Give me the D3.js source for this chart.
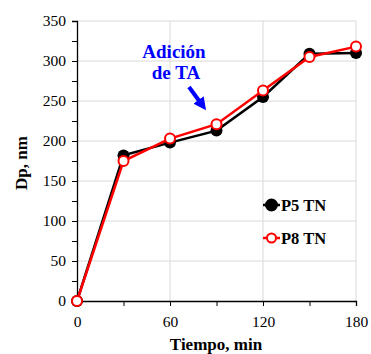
<!DOCTYPE html>
<html>
<head>
<meta charset="utf-8">
<script src="https://cdn.jsdelivr.net/npm/d3@7"></script>
<style>
  body { margin: 0; background: #fff; }
  svg text { font-family: "Liberation Serif", "Times New Roman", serif !important; }
</style>
</head>
<body>
<div id="chart"></div>
<script>
// data
var times = [0, 30, 60, 90, 120, 150, 180];
var p5 = [0, 182, 198, 213, 255, 309, 310];
var p8 = [0, 175, 203, 221, 263, 305, 318];
var xTicks = [0, 60, 120, 180];
var yTicks = [0, 50, 100, 150, 200, 250, 300, 350];

var svgWidth = 371;
var svgHeight = 354;
var margin = { top: 21, right: 15, bottom: 53, left: 77 };
var width = 356 - margin.left;
var height = 301 - margin.top;

var svg = d3.select("#chart").append("svg")
  .attr("width", svgWidth)
  .attr("height", svgHeight);

var g = svg.append("g")
  .attr("transform", "translate(" + margin.left + "," + margin.top + ")");

var xScale = d3.scaleLinear().domain([0, 180]).range([0, width]);
var yScale = d3.scaleLinear().domain([0, 350]).range([height, 0]);

// grid
g.selectAll(".hgrid").data(yTicks.slice(1)).enter().append("line")
  .attr("x1", 0).attr("x2", width)
  .attr("y1", d => yScale(d)).attr("y2", d => yScale(d))
  .attr("stroke", "#d9d9d9").attr("stroke-width", 1);
g.selectAll(".vgrid").data(xTicks.slice(1)).enter().append("line")
  .attr("x1", d => xScale(d)).attr("x2", d => xScale(d))
  .attr("y1", 0).attr("y2", height)
  .attr("stroke", "#d9d9d9").attr("stroke-width", 1);

// axes
var yAxis = d3.axisLeft(yScale).tickValues(d3.range(0, 351, 25))
  .tickSize(5).tickPadding(6)
  .tickFormat(d => (d % 50 === 0 ? d : ""));
var xAxis = d3.axisBottom(xScale).tickValues(d3.range(0, 181, 30))
  .tickSize(5).tickPadding(10)
  .tickFormat(d => (d % 60 === 0 ? d : ""));

var ya = g.append("g").call(yAxis);
var xa = g.append("g").attr("transform", "translate(0," + height + ")").call(xAxis);
[ya, xa].forEach(function (a) {
  a.attr("font-family", null);
  a.select(".domain").attr("stroke", "#000").attr("stroke-width", 1.3);
  a.selectAll(".tick line").attr("stroke", "#000");
  a.selectAll(".tick text").style("font-size", "15.5px").attr("fill", "#000");
});

// lines and markers
var line = d3.line().x((d, i) => xScale(times[i])).y(d => yScale(d));

g.append("path").datum(p5).attr("d", line)
  .attr("fill", "none").attr("stroke", "#000").attr("stroke-width", 2.5);
g.selectAll(".p5").data(p5).enter().append("circle")
  .attr("cx", (d, i) => xScale(times[i])).attr("cy", d => yScale(d))
  .attr("r", 6).attr("fill", "#000");

g.append("path").datum(p8).attr("d", line)
  .attr("fill", "none").attr("stroke", "#ff0000").attr("stroke-width", 2.5);
g.selectAll(".p8").data(p8).enter().append("circle")
  .attr("cx", (d, i) => xScale(times[i])).attr("cy", d => yScale(d))
  .attr("r", 5).attr("fill", "#fff").attr("stroke", "#ff0000").attr("stroke-width", 2);

// legend
var legend = [
  { name: "P5 TN", color: "#000", fill: "#000", y: 205 },
  { name: "P8 TN", color: "#ff0000", fill: "#fff", y: 238 }
];
legend.forEach(function (l) {
  svg.append("line").attr("x1", 263).attr("x2", 280).attr("y1", l.y).attr("y2", l.y)
    .attr("stroke", l.color).attr("stroke-width", 2.5);
  svg.append("circle").attr("cx", 271.5).attr("cy", l.y)
    .attr("r", l.fill === "#000" ? 5.5 : 4.5)
    .attr("fill", l.fill).attr("stroke", l.color).attr("stroke-width", 2);
  svg.append("text").attr("x", 281).attr("y", l.y + 5.5)
    .style("font-size", "16.5px").style("font-weight", "bold").text(l.name);
});

// annotation
svg.append("text").attr("x", 174).attr("y", 58).attr("text-anchor", "middle")
  .style("font-size", "19px").style("font-weight", "bold").attr("fill", "#0000ff")
  .text("Adición");
svg.append("text").attr("x", 176).attr("y", 79).attr("text-anchor", "middle")
  .style("font-size", "19px").style("font-weight", "bold").attr("fill", "#0000ff")
  .text("de TA");
svg.append("defs").append("marker").attr("id", "arr")
  .attr("viewBox", "0 0 10 10").attr("refX", 2).attr("refY", 5)
  .attr("markerWidth", 3.2).attr("markerHeight", 3.2).attr("orient", "auto")
  .append("path").attr("d", "M0,0 L10,5 L0,10 z").attr("fill", "#0000ff");
svg.append("line").attr("x1", 189).attr("y1", 87).attr("x2", 200).attr("y2", 102)
  .attr("stroke", "#0000ff").attr("stroke-width", 4).attr("marker-end", "url(#arr)");

// axis titles
svg.append("text").attr("x", 216).attr("y", 350).attr("text-anchor", "middle")
  .style("font-size", "17px").style("font-weight", "bold").text("Tiempo, min");
svg.append("text").attr("transform", "translate(27,163) rotate(-90)")
  .attr("text-anchor", "middle")
  .style("font-size", "17px").style("font-weight", "bold").text("Dp, nm");
</script>
</body>
</html>
